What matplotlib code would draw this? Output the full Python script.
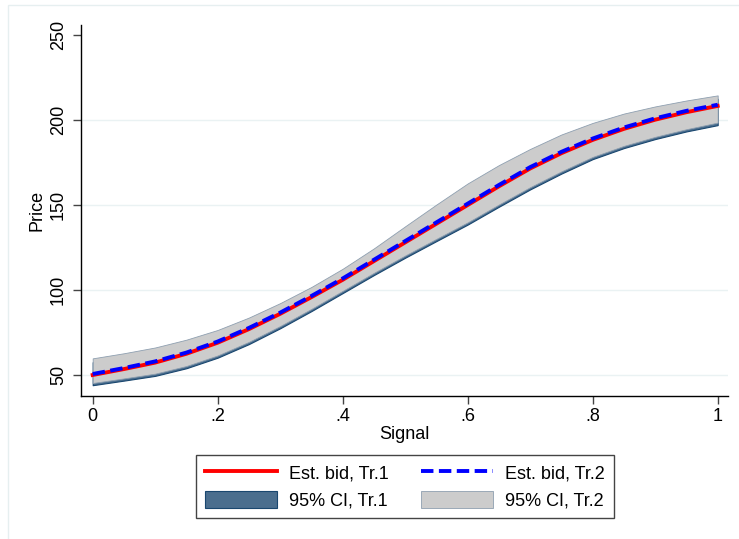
import matplotlib
matplotlib.use("Agg")
import matplotlib.pyplot as plt
from matplotlib.patches import Rectangle

plt.rcParams['font.family'] = ['Liberation Sans', 'DejaVu Sans']

signal = [0, .05, .1, .15, .2, .25, .3, .35, .4, .45, .5,
          .55, .6, .65, .7, .75, .8, .85, .9, .95, 1]

# estimated bids
bid_tr1 = [50.0, 53.5, 57.3, 62.5, 69.0, 77.0, 86.0, 95.8, 106.0, 117.0, 128.0,
           139.0, 150.0, 161.0, 171.5, 180.5, 188.3, 194.8, 200.2, 204.6, 208.3]
bid_tr2 = [50.6, 54.1, 58.0, 63.2, 69.7, 77.7, 86.7, 96.5, 106.8, 117.8, 128.8,
           139.8, 150.8, 161.8, 172.3, 181.3, 189.1, 195.6, 201.0, 205.4, 209.0]

# 95% CI, Tr.1
ci1_lo = [44.0, 46.7, 49.5, 54.0, 60.2, 68.2, 77.5, 87.6, 98.2, 108.8, 119.0,
          128.8, 138.5, 149.0, 159.2, 168.5, 177.0, 183.5, 188.8, 193.3, 197.0]
ci1_hi = [57.5, 60.5, 64.0, 68.5, 74.3, 81.5, 90.0, 99.5, 110.0, 122.0, 135.0,
          148.0, 160.5, 171.5, 181.0, 189.5, 196.3, 201.8, 206.0, 209.5, 212.5]

# 95% CI, Tr.2
ci2_lo = [45.3, 48.0, 50.8, 55.3, 61.5, 69.5, 78.8, 88.9, 99.5, 110.1, 120.3,
          130.1, 139.8, 150.3, 160.5, 169.8, 178.3, 184.8, 190.1, 194.6, 198.5]
ci2_hi = [59.8, 62.8, 66.2, 70.8, 76.5, 83.8, 92.3, 101.8, 112.5, 124.5, 137.5,
          150.3, 162.7, 173.5, 183.0, 191.5, 198.3, 203.8, 208.0, 211.5, 214.5]

xticks = [0, .2, .4, .6, .8, 1]
xtick_labels = ['0', '.2', '.4', '.6', '.8', '1']
yticks = [50, 100, 150, 200, 250]
grid_vals = [50, 100, 150, 200]

fig = plt.figure(figsize=(7.39, 5.39), dpi=100)
ax = fig.add_axes([81/739, 1 - 396/539, (728 - 81)/739, (396 - 25)/539])

# light outer frame like the graph region
fig.patches.append(Rectangle((8/739, -0.02), 1.0, 1 - 5/539 + 0.02,
                             transform=fig.transFigure, fill=False,
                             edgecolor='#e6eff0', linewidth=1.0))

for g in grid_vals:
    ax.axhline(g, color='#eaf2f3', linewidth=1.0, zorder=0)

ci1 = ax.fill_between(signal, ci1_lo, ci1_hi, facecolor='#4b6e8e',
                      edgecolor='#1a476f', linewidth=0.8, zorder=2,
                      label='95% CI, Tr.1')
ci2 = ax.fill_between(signal, ci2_lo, ci2_hi, facecolor='#cccccc',
                      edgecolor='#8e9fb0', linewidth=0.6, zorder=3,
                      label='95% CI, Tr.2')
l1, = ax.plot(signal, bid_tr1, color='red', linewidth=2.8, zorder=4,
              label='Est. bid, Tr.1')
l2, = ax.plot(signal, bid_tr2, color='blue', linewidth=2.8, zorder=5,
              dashes=(3.2, 1.4), label='Est. bid, Tr.2')

ax.set_xlim(-0.0187, 1.0165)
ax.set_ylim(37.65, 255.9)
ax.set_xticks(xticks)
ax.set_xticklabels(xtick_labels)
ax.set_yticks(yticks)
ax.set_yticklabels([str(v) for v in yticks], rotation=90, va='center')

ax.tick_params(axis='both', direction='out', length=6, width=1,
               color='#444444', labelsize=13)
ax.tick_params(axis='y', pad=4)
ax.tick_params(axis='x', pad=2.5)

for side in ['top', 'right']:
    ax.spines[side].set_visible(False)
for side in ['left', 'bottom']:
    ax.spines[side].set_color('black')
    ax.spines[side].set_linewidth(1.0)

ax.set_xlabel('Signal', fontsize=13, labelpad=1)
ax.set_ylabel('Price', fontsize=13, labelpad=3)

leg = fig.legend([l1, ci1, l2, ci2],
                 ['Est. bid, Tr.1', '95% CI, Tr.1', 'Est. bid, Tr.2', '95% CI, Tr.2'],
                 ncol=2, loc='center', bbox_to_anchor=(405/739, 1 - 486.5/539),
                 fontsize=13, frameon=True, fancybox=False, framealpha=1,
                 edgecolor='#444444', borderpad=0.5, handlelength=4.0,
                 handleheight=1.1, handletextpad=0.65, columnspacing=1.8,
                 labelspacing=0.45)
leg.get_frame().set_linewidth(1.0)

fig.savefig('out.png', dpi=100)
